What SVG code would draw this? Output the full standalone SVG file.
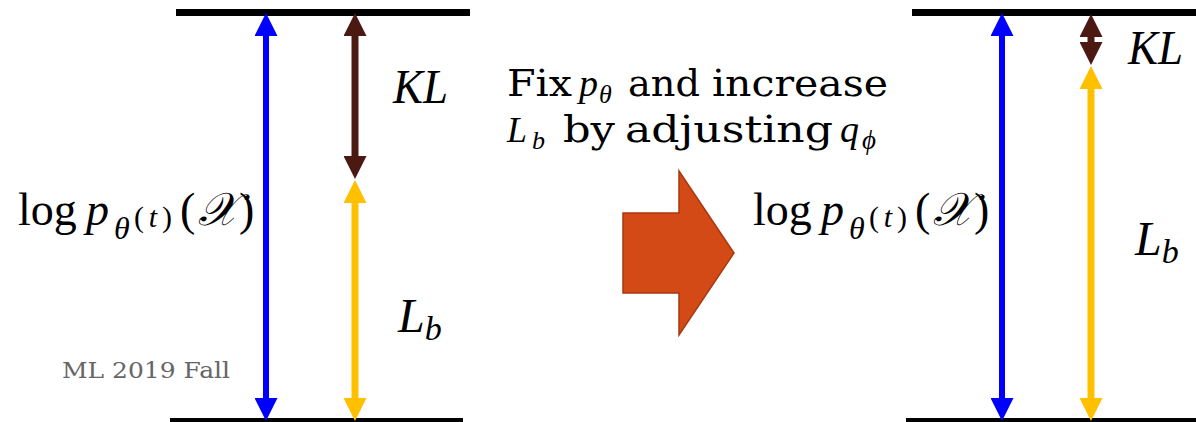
<svg xmlns="http://www.w3.org/2000/svg" width="1196" height="422" viewBox="0 0 1196 422">
<style>
.bar{fill:#000}
.m{font-family:"Liberation Serif","DejaVu Serif",serif;fill:#000}
.it{font-style:italic}
.slab{font-family:"DejaVu Serif","Liberation Serif",serif;fill:#000;font-size:37px}
.wm{font-family:"DejaVu Serif","Liberation Serif",serif;fill:#666;font-size:22px}
.blue{stroke:#0000FF;stroke-width:6}
.brown{stroke:#4B1812;stroke-width:7}
.yellow{stroke:#FFC000;stroke-width:7}
</style>
<defs>
<marker id="hb" markerUnits="userSpaceOnUse" markerWidth="23" markerHeight="23" refX="0" refY="11.5" orient="auto-start-reverse" viewBox="0 0 23 23"><path d="M0,0 L23,11.5 L0,23 z" fill="#0000FF"/></marker>
<marker id="hr" markerUnits="userSpaceOnUse" markerWidth="23" markerHeight="23" refX="0" refY="11.5" orient="auto-start-reverse" viewBox="0 0 23 23"><path d="M0,0 L23,11.5 L0,23 z" fill="#4B1812"/></marker>
<marker id="hy" markerUnits="userSpaceOnUse" markerWidth="23" markerHeight="23" refX="0" refY="11.5" orient="auto-start-reverse" viewBox="0 0 23 23"><path d="M0,0 L23,11.5 L0,23 z" fill="#FFC000"/></marker>
</defs>
<rect width="1196" height="422" fill="#fff"/>

<g id="left-panel">
<rect class="bar" x="176" y="9" width="294" height="7"/>
<rect class="bar" x="170" y="418" width="293" height="7"/>
<text class="m" font-size="46" y="225"><tspan x="18">log</tspan><tspan class="it" x="86">p</tspan><tspan class="it" x="114" y="239" font-size="32">θ</tspan><tspan x="134" y="227" font-size="30" textLength="38" lengthAdjust="spacing">(<tspan class="it">t</tspan>)</tspan><tspan x="180" y="225">(</tspan><tspan class="it" x="198">𝒳</tspan><tspan x="239">)</tspan></text>
<text class="m it" font-size="48" x="393" y="103" textLength="55" lengthAdjust="spacingAndGlyphs">KL</text>
<text class="m it" font-size="48" x="398" y="332">L<tspan font-size="34" y="340">b</tspan></text>
<text class="wm" x="62" y="378" textLength="168" lengthAdjust="spacingAndGlyphs">ML 2019 Fall</text>
</g>

<g id="middle">
<text class="slab" y="96"><tspan x="507" textLength="65" lengthAdjust="spacingAndGlyphs">Fix</tspan><tspan class="m it" x="579" font-size="38">p</tspan><tspan class="m it" x="599" y="103" font-size="26">θ</tspan><tspan x="628" y="96" textLength="72" lengthAdjust="spacingAndGlyphs">and</tspan><tspan x="712" textLength="176" lengthAdjust="spacingAndGlyphs">increase</tspan></text>
<text class="slab" y="142"><tspan class="m it" x="507" font-size="36">L</tspan><tspan class="m it" x="532" y="149" font-size="26">b</tspan><tspan x="563" y="142" textLength="52" lengthAdjust="spacingAndGlyphs">by</tspan><tspan x="625" textLength="208" lengthAdjust="spacingAndGlyphs">adjusting</tspan><tspan class="m it" x="840" font-size="38">q</tspan><tspan class="m it" x="862" y="149" font-size="27">ϕ</tspan></text>
<polygon points="623,213 679,213 679,171 734,253 679,335 679,293 623,293" fill="#D34A17" stroke="#A8390F" stroke-width="1.5"/>
</g>

<g id="right-panel">
<rect class="bar" x="912" y="9" width="284" height="7"/>
<rect class="bar" x="906" y="418" width="290" height="7"/>
<text class="m" font-size="46" y="225"><tspan x="753">log</tspan><tspan class="it" x="821">p</tspan><tspan class="it" x="849" y="239" font-size="32">θ</tspan><tspan x="869" y="227" font-size="30" textLength="38" lengthAdjust="spacing">(<tspan class="it">t</tspan>)</tspan><tspan x="915" y="225">(</tspan><tspan class="it" x="933">𝒳</tspan><tspan x="974">)</tspan></text>
<text class="m it" font-size="48" x="1128" y="64" textLength="55" lengthAdjust="spacingAndGlyphs">KL</text>
<text class="m it" font-size="48" x="1135" y="255">L<tspan font-size="34" y="263">b</tspan></text>
</g>

<g id="connectors">
<line class="blue" x1="266" y1="36" x2="266" y2="398" marker-start="url(#hb)" marker-end="url(#hb)"/>
<line class="brown" x1="355" y1="36" x2="355" y2="156" marker-start="url(#hr)" marker-end="url(#hr)"/>
<line class="yellow" x1="355" y1="203" x2="355" y2="398" marker-start="url(#hy)" marker-end="url(#hy)"/>
<line class="blue" x1="1002" y1="36" x2="1002" y2="398" marker-start="url(#hb)" marker-end="url(#hb)"/>
<line class="brown" x1="1091" y1="37" x2="1091" y2="42" marker-start="url(#hr)" marker-end="url(#hr)"/>
<line class="yellow" x1="1091" y1="89" x2="1091" y2="398" marker-start="url(#hy)" marker-end="url(#hy)"/>
</g>
</svg>
